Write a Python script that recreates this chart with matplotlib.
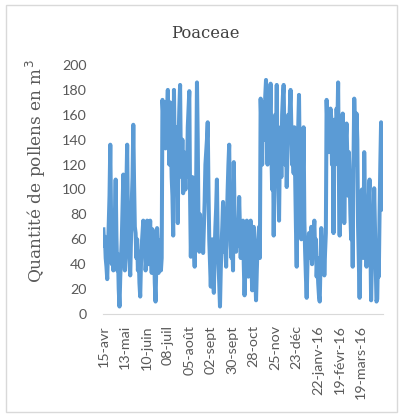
import numpy as np
import matplotlib.pyplot as plt
from matplotlib.patches import Rectangle

# daily pollen counts, 15-avr-2015 .. mid-avr-2016
pollen = [
    68, 55, 62, 45, 38, 28, 50, 70, 95, 136, 78, 40, 60, 35, 65, 80, 108, 62, 35, 48, 20, 6, 30, 45, 60, 85, 112, 55,
    35, 70, 100, 136, 75, 50, 40, 31, 60, 90, 110, 152, 105, 70, 65, 45, 60, 35, 50, 25, 14, 40, 55, 65, 75, 48, 60, 35,
    45, 75, 55, 40, 62, 75, 50, 33, 68, 45, 60, 25, 10, 40, 69, 55, 33, 48, 59, 35, 45, 172, 160, 140, 170, 133, 150, 165,
    180, 150, 120, 170, 140, 110, 95, 63, 180, 130, 100, 150, 120, 73, 140, 165, 184, 120, 110, 140, 97, 130, 115, 100, 125, 110, 150, 165,
    179, 95, 46, 80, 110, 70, 55, 38, 70, 110, 186, 140, 70, 50, 80, 55, 65, 75, 49, 70, 90, 120, 130, 140, 154, 100, 60, 40,
    22, 45, 60, 30, 17, 50, 70, 85, 108, 60, 40, 25, 6, 35, 55, 70, 90, 65, 50, 55, 38, 75, 100, 120, 136, 80, 55, 45,
    60, 35, 122, 80, 60, 50, 70, 55, 65, 94, 70, 45, 60, 50, 75, 40, 15, 35, 60, 75, 45, 30, 55, 68, 75, 40, 19, 50,
    70, 45, 30, 11, 35, 55, 62, 70, 45, 173, 150, 120, 170, 160, 140, 175, 188, 150, 120, 170, 140, 160, 185, 130, 100, 150, 63, 120,
    160, 140, 184, 120, 100, 75, 130, 150, 110, 160, 175, 184, 140, 120, 150, 102, 130, 160, 140, 165, 180, 150, 120, 130, 113, 150, 110, 70,
    38, 100, 150, 176, 120, 90, 60, 80, 110, 150, 75, 50, 30, 13, 40, 55, 65, 45, 60, 70, 40, 55, 65, 75, 50, 60, 30, 45,
    25, 15, 10, 40, 69, 55, 45, 60, 31, 50, 65, 172, 150, 160, 130, 145, 165, 158, 120, 140, 65, 156, 120, 140, 165, 150, 186, 110,
    63, 150, 120, 140, 161, 130, 73, 110, 140, 153, 125, 95, 130, 110, 80, 60, 100, 38, 120, 173, 150, 120, 161, 140, 70, 40, 13, 50,
    78, 100, 60, 45, 130, 90, 70, 38, 60, 80, 95, 108, 60, 11, 40, 75, 60, 101, 70, 40, 10, 12, 50, 30, 80, 120, 154, 130, 84,
]
tick_labels = ['15-avr', '13-mai', '10-juin', '08-juil', '05-août', '02-sept', '30-sept',
               '28-oct', '25-nov', '23-déc', '22-janv-16', '19-févr-16', '19-mars-16']
tick_step = 28

W, H = 399, 416
fig = plt.figure(figsize=(W / 100, H / 100), dpi=100)
fig.patches.append(Rectangle((6 / W, 1 - 412 / H), 391 / W, 407 / H, transform=fig.transFigure,
                             fill=False, edgecolor='#d9d9d9', lw=1))

ax = fig.add_axes([103 / W, 1 - 314 / H, 280 / W, 249 / H])
days = np.arange(len(pollen))
ax.plot(days, pollen, color='#5b9bd5', lw=2.9, solid_joinstyle='round')

ax.set_xlim(-0.5, len(pollen) - 0.5)
ax.set_ylim(0, 200)
ax.set_yticks(range(0, 201, 20))
ax.set_xticks(np.arange(len(tick_labels)) * tick_step)
ax.set_xticklabels(tick_labels, rotation=90)
ax.tick_params(length=0, colors='#595959', labelsize=10.3)
ax.tick_params(axis='y', pad=12)
ax.tick_params(axis='x', pad=8)
for lab in ax.get_xticklabels() + ax.get_yticklabels():
    lab.set_family('Lato')

for s in ['top', 'right', 'left']:
    ax.spines[s].set_visible(False)
ax.spines['bottom'].set_color('#d9d9d9')

fig.text(205 / W, 1 - 33 / H, 'Poaceae', ha='center', va='center',
         family='DejaVu Serif', fontsize=11.8, color='#404040')
fig.text(36 / W, 1 - 171 / H, 'Quantité de pollens en m$^3$', ha='center', va='center',
         rotation=90, family='DejaVu Serif', fontsize=12.2, color='#595959')

fig.savefig('out.png', dpi=100)
